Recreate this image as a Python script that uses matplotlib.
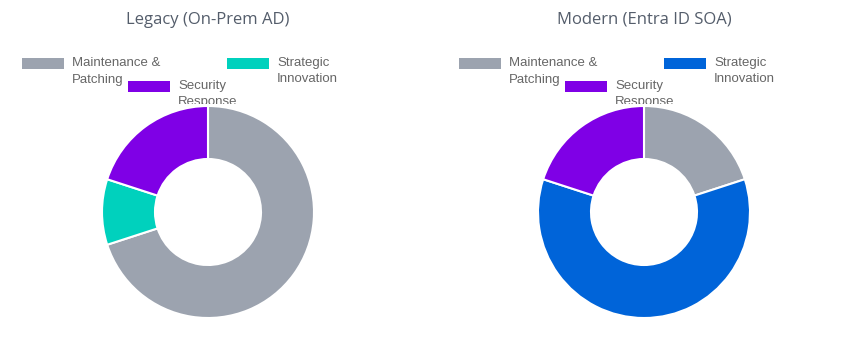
import matplotlib
matplotlib.use("Agg")
import matplotlib.pyplot as plt
from matplotlib.patches import Rectangle
from matplotlib.transforms import Bbox

W, H = 847, 353

labels = ["Maintenance &\nPatching", "Strategic\nInnovation", "Security\nResponse"]
legacy_values = [70, 10, 20]
modern_values = [20, 60, 20]
legacy_colors = ["#9ca3af", "#00d1bd", "#7f00e6"]
modern_colors = ["#9ca3af", "#0064d9", "#7f00e6"]
titles = ["Legacy (On-Prem AD)", "Modern (Entra ID SOA)"]

fig = plt.figure(figsize=(W / 100, H / 100), dpi=100)


def px(x, y):
    # pixel coords (top-left origin) -> figure fraction
    return x / W, 1 - y / H


def donut(cx, cy, r, values, colors, title, legend_x):
    ax = fig.add_axes([(cx - r) / W, 1 - (cy + r) / H, 2 * r / W, 2 * r / H])
    ax.pie(values, colors=colors, startangle=90, counterclock=False,
           radius=1, wedgeprops=dict(width=0.5, edgecolor="white", linewidth=1.5))
    ax.set_xlim(-1, 1)
    ax.set_ylim(-1, 1)
    ax.set_aspect("equal")
    ax.axis("off")

    fig.text(*px(cx, 20), title, ha="center", va="center", fontsize=12,
             color="#545d6b", family="Open Sans")

    # legend, chart.js style: box then label
    spots = [(legend_x, 58), (legend_x + 205, 58), (legend_x + 106, 81)]
    clip = Bbox.from_extents(0, H - 104, W, H)  # label text cut off where the chart starts
    for (bx, by), lab, col in zip(spots, labels, colors):
        x0, y1 = px(bx, by)
        x1, y0 = px(bx + 42, by + 11)
        fig.patches.append(Rectangle((x0, y0), x1 - x0, y1 - y0, facecolor=col,
                                     edgecolor="none", transform=fig.transFigure))
        t = fig.text(*px(bx + 50, by - 1), lab, ha="left", va="top", fontsize=9.5,
                     color="#666666", family="Liberation Sans", linespacing=1.5)
        t.set_clip_box(clip)
        t.set_clip_on(True)


donut(208, 212, 106, legacy_values, legacy_colors, titles[0], 22)
donut(644, 212, 106, modern_values, modern_colors, titles[1], 459)

fig.savefig("out.png", dpi=100, facecolor="white")
